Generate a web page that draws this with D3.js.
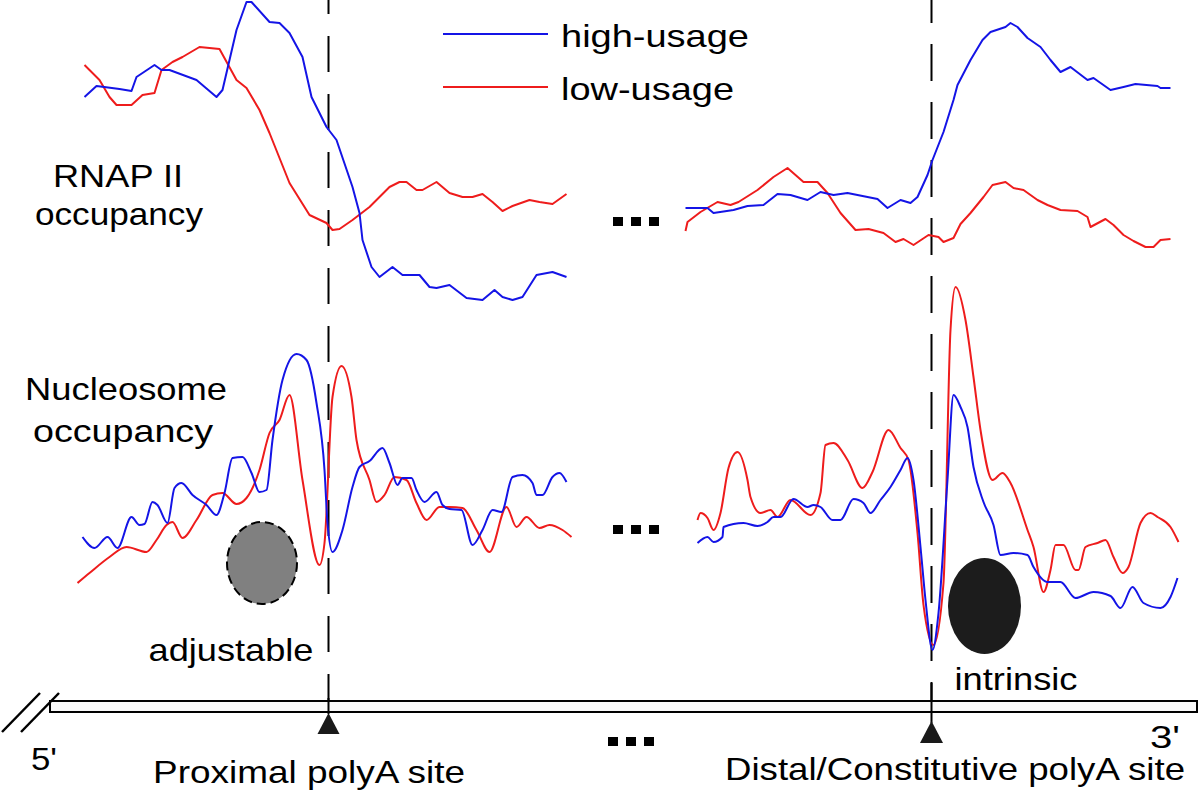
<!DOCTYPE html>
<html>
<head>
<meta charset="utf-8">
<script src="https://cdn.jsdelivr.net/npm/d3@7"></script>
<style>
  html, body { margin: 0; padding: 0; background: #fff; }
  svg { display: block; }
  text { font-family: "Liberation Sans", Arial, Helvetica, sans-serif; font-size: 32px; fill: #000; }
</style>
</head>
<body>
<svg id="chart" width="1200" height="792"></svg>
<script>
// offsets are relative to the polyA site, values are occupancy (arbitrary units)
const rnapProxHigh = [[-244,213],[-232,224],[-209,221],[-197,219],[-192,233],[-174,245],[-167,240],[-159,240],[-132,230],[-112,213],[-106,220],[-92,280],[-82,308],[-77,308],[-59,288],[-49,287],[-39,277],[-26,253],[-17,213],[-2,183],[8,170],[24,123],[31,97],[34,70],[43,43],[51,33],[64,43],[74,35],[91,35],[101,23],[108,22],[121,25],[138,12],[154,10],[166,20],[174,13],[184,10],[194,13],[208,35],[224,38],[238,33]]
const rnapProxLow = [[-244,245],[-229,230],[-219,213],[-212,205],[-197,205],[-186,215],[-174,217],[-167,240],[-156,248],[-146,253],[-129,263],[-109,261],[-92,230],[-82,222],[-69,200],[-59,177],[-39,127],[-19,95],[-2,87],[4,80],[11,81],[24,90],[41,103],[61,123],[71,128],[78,128],[88,120],[94,120],[108,128],[121,117],[134,113],[144,113],[154,116],[164,108],[174,99],[184,104],[201,110],[211,108],[224,106],[238,116]]
const rnapDistHigh = [[-246,102],[-224,102],[-218,97],[-198,100],[-184,104],[-168,105],[-154,116],[-141,115],[-124,110],[-111,118],[-98,115],[-84,117],[-64,113],[-54,111],[-44,102],[-31,110],[-21,107],[-14,113],[-4,135],[1,150],[12,178],[22,210],[26,225],[39,250],[51,270],[59,278],[74,283],[79,287],[86,283],[96,272],[109,263],[119,250],[129,238],[139,243],[156,230],[162,232],[179,220],[192,223],[204,226],[226,224],[229,222],[239,222]]
const rnapDistLow = [[-246,79],[-244,88],[-231,98],[-214,108],[-201,105],[-193,108],[-174,120],[-158,133],[-144,142],[-128,128],[-114,128],[-104,117],[-91,97],[-76,80],[-63,81],[-48,77],[-36,68],[-28,71],[-18,65],[-3,75],[7,73],[12,68],[22,72],[29,86],[39,97],[52,113],[61,125],[74,128],[82,122],[92,120],[106,110],[116,105],[129,100],[146,99],[156,93],[159,83],[174,91],[182,85],[192,75],[202,69],[214,63],[222,63],[229,70],[239,71]]

const nucProxHigh = [[-246,123],[-234,112],[-221,123],[-211,112],[-197,143],[-189,135],[-184,136],[-176,158],[-171,155],[-161,137],[-154,172],[-147,177],[-136,165],[-122,155],[-112,145],[-104,167],[-96,202],[-86,203],[-77,187],[-69,168],[-62,170],[-56,220],[-46,280],[-32,306],[-22,300],[-12,257],[-4,190],[-1,137],[4,108],[14,130],[24,173],[31,193],[41,199],[54,212],[61,197],[69,175],[74,182],[83,182],[88,170],[96,158],[108,168],[114,155],[121,151],[133,150],[144,115],[154,130],[164,150],[173,148],[184,183],[194,185],[204,177],[208,165],[214,165],[224,183],[231,187],[238,178]]
const nucProxLow = [[-251,77],[-239,87],[-219,103],[-202,113],[-182,108],[-172,120],[-162,135],[-156,138],[-146,122],[-132,140],[-116,165],[-106,167],[-92,156],[-82,162],[-69,190],[-59,227],[-49,240],[-39,265],[-26,180],[-9,95],[-4,117],[4,263],[13,294],[23,263],[28,220],[41,180],[48,158],[56,165],[66,183],[78,180],[88,157],[98,140],[111,153],[121,153],[134,152],[148,130],[161,108],[178,153],[188,133],[198,143],[211,132],[221,135],[234,130],[243,123]]
const nucDistHigh = [[-234,117],[-224,123],[-218,118],[-209,123],[-208,133],[-188,137],[-174,134],[-164,138],[-158,143],[-151,143],[-138,161],[-124,153],[-118,155],[-111,153],[-99,140],[-91,140],[-78,161],[-68,157],[-61,147],[-51,160],[-41,173],[-31,190],[-24,202],[-18,180],[-11,113],[-6,60],[1,10],[7,47],[16,180],[22,265],[29,253],[36,233],[42,193],[52,158],[62,135],[69,105],[82,107],[96,105],[102,93],[116,78],[129,78],[144,62],[162,68],[179,64],[189,52],[201,73],[212,57],[229,52],[239,63],[246,82]]
const nucDistLow = [[-234,140],[-231,147],[-224,142],[-218,130],[-211,147],[-203,192],[-194,208],[-184,180],[-181,163],[-171,147],[-161,150],[-154,143],[-141,160],[-121,145],[-111,167],[-106,215],[-98,217],[-84,200],[-69,172],[-59,188],[-43,230],[-31,212],[-23,200],[-14,127],[-8,55],[2,15],[12,77],[19,330],[24,373],[34,340],[42,283],[49,230],[61,180],[71,187],[79,177],[96,130],[102,113],[112,68],[119,90],[124,115],[132,115],[144,90],[147,90],[154,113],[166,117],[174,120],[182,103],[191,87],[197,93],[209,137],[219,147],[226,143],[239,133],[247,118]]

const seriesNames = ["high-usage", "low-usage"]
const seriesColors = ["#1414e6", "#ee1c1c"]
const siteNames = ["Proximal polyA site", "Distal/Constitutive polyA site"]
const panelNames = [["RNAP II", "occupancy"], ["Nucleosome", "occupancy"]]
const nucleosomeNames = ["adjustable", "intrinsic"]

const svg = d3.select("#chart")

const xProx = d3.scaleLinear().domain([-250, 250]).range([328.5 - 250, 328.5 + 250])
const xDist = d3.scaleLinear().domain([-250, 250]).range([931.5 - 250, 931.5 + 250])
const yRnap = d3.scaleLinear().domain([0, 310]).range([310, 0])
const yNuc = d3.scaleLinear().domain([0, 380]).range([660, 280])

const drawCurve = (data, x, y, color, curve) => {
  svg.append("path")
    .datum(data)
    .attr("fill", "none")
    .attr("stroke", color)
    .attr("stroke-width", 2)
    .attr("stroke-linejoin", "round")
    .attr("d", d3.line().x(d => x(d[0])).y(d => y(d[1])).curve(curve))
}

// dashed site lines
svg.append("line")
  .attr("x1", xProx(0)).attr("x2", xProx(0)).attr("y1", 0).attr("y2", 700)
  .attr("stroke", "#000").attr("stroke-width", 2)
  .attr("stroke-dasharray", "36,22").attr("stroke-dashoffset", 22)
svg.append("line")
  .attr("x1", xDist(0)).attr("x2", xDist(0)).attr("y1", 0).attr("y2", 700)
  .attr("stroke", "#000").attr("stroke-width", 2)
  .attr("stroke-dasharray", "37,21").attr("stroke-dashoffset", 14)

// nucleosome ellipses
svg.append("ellipse")
  .attr("cx", 262).attr("cy", 563).attr("rx", 35).attr("ry", 41)
  .attr("fill", "#808080").attr("stroke", "#000").attr("stroke-width", 2)
  .attr("stroke-dasharray", "9,5")
svg.append("ellipse")
  .attr("cx", 984.5).attr("cy", 606).attr("rx", 36.5).attr("ry", 48)
  .attr("fill", "#1c1c1c")

// curves
drawCurve(rnapProxLow, xProx, yRnap, seriesColors[1], d3.curveLinear)
drawCurve(rnapProxHigh, xProx, yRnap, seriesColors[0], d3.curveLinear)
drawCurve(rnapDistLow, xDist, yRnap, seriesColors[1], d3.curveLinear)
drawCurve(rnapDistHigh, xDist, yRnap, seriesColors[0], d3.curveLinear)
drawCurve(nucProxLow, xProx, yNuc, seriesColors[1], d3.curveMonotoneX)
drawCurve(nucProxHigh, xProx, yNuc, seriesColors[0], d3.curveMonotoneX)
drawCurve(nucDistLow, xDist, yNuc, seriesColors[1], d3.curveMonotoneX)
drawCurve(nucDistHigh, xDist, yNuc, seriesColors[0], d3.curveMonotoneX)

// legend
const legendY = [34, 87]
const legendW = [188, 173]
seriesNames.forEach((s, i) => {
  svg.append("line")
    .attr("x1", 443).attr("x2", 548).attr("y1", legendY[i]).attr("y2", legendY[i])
    .attr("stroke", seriesColors[i]).attr("stroke-width", 2)
  svg.append("text")
    .attr("x", 561).attr("y", legendY[i] + 13)
    .attr("textLength", legendW[i]).attr("lengthAdjust", "spacingAndGlyphs")
    .text(s)
})

// panel labels
const panelLabel = [
  [{x: 118, y: 187, w: 130}, {x: 119, y: 225, w: 168}],
  [{x: 126, y: 400, w: 202}, {x: 123, y: 442, w: 180}]
]
panelNames.forEach((lines, i) => {
  lines.forEach((t, j) => {
    const p = panelLabel[i][j]
    svg.append("text")
      .attr("x", p.x).attr("y", p.y).attr("text-anchor", "middle")
      .attr("textLength", p.w).attr("lengthAdjust", "spacingAndGlyphs")
      .text(t)
  })
})

// "..." gaps
const gapDots = [[613, 217, 10, 9], [631, 217, 10, 9], [649, 217, 10, 9],
                 [613, 525, 10, 9], [631, 525, 10, 9], [649, 525, 10, 9],
                 [608, 737, 10, 9], [626, 737, 10, 9], [644, 737, 10, 9]]
svg.selectAll("rect.dot").data(gapDots).join("rect")
  .attr("class", "dot")
  .attr("x", d => d[0]).attr("y", d => d[1]).attr("width", d => d[2]).attr("height", d => d[3])
  .attr("fill", "#000")

// gene bar
svg.append("rect")
  .attr("x", 50).attr("y", 701).attr("width", 1147).attr("height", 11)
  .attr("fill", "#f8f8f8").attr("stroke", "#000").attr("stroke-width", 2)
svg.append("line").attr("x1", 2).attr("y1", 732).attr("x2", 40).attr("y2", 693)
  .attr("stroke", "#000").attr("stroke-width", 2.5)
svg.append("line").attr("x1", 21).attr("y1", 732).attr("x2", 59).attr("y2", 693)
  .attr("stroke", "#000").attr("stroke-width", 2.5)

// site markers
svg.append("line").attr("x1", xProx(0)).attr("x2", xProx(0)).attr("y1", 698).attr("y2", 714)
  .attr("stroke", "#000").attr("stroke-width", 2)
svg.append("path")
  .attr("d", `M${xProx(0)},713 L${xProx(0) + 11},734 L${xProx(0) - 11},734 Z`)
  .attr("fill", "#1a1a1a")
svg.append("line").attr("x1", xDist(0)).attr("x2", xDist(0)).attr("y1", 683).attr("y2", 723)
  .attr("stroke", "#000").attr("stroke-width", 2)
svg.append("path")
  .attr("d", `M${xDist(0)},721 L${xDist(0) + 11.5},743 L${xDist(0) - 11.5},743 Z`)
  .attr("fill", "#1a1a1a")

// text labels
const labels = [
  {t: nucleosomeNames[0], x: 231, y: 661, w: 165},
  {t: nucleosomeNames[1], x: 1016, y: 690, w: 123},
  {t: siteNames[0], x: 309, y: 783, w: 312},
  {t: siteNames[1], x: 955, y: 780, w: 460},
  {t: "5'", x: 44, y: 770, w: 26},
  {t: "3'", x: 1165, y: 748, w: 30}
]
labels.forEach(l => {
  svg.append("text")
    .attr("x", l.x).attr("y", l.y).attr("text-anchor", "middle")
    .attr("textLength", l.w).attr("lengthAdjust", "spacingAndGlyphs")
    .text(l.t)
})
</script>
</body>
</html>
